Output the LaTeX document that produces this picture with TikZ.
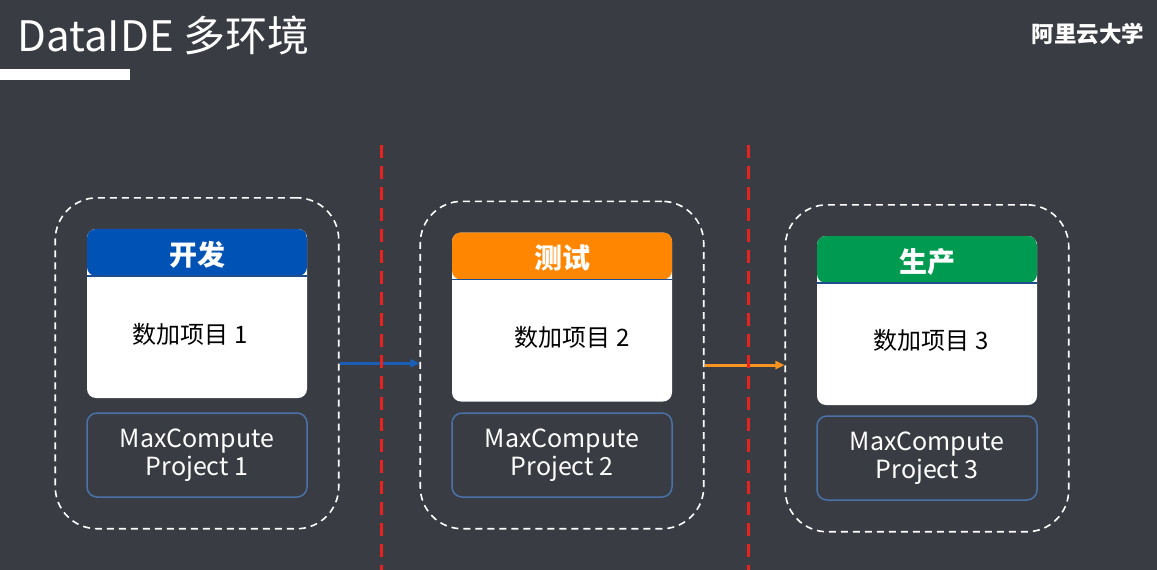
\documentclass[tikz,border=0pt]{standalone}
\usepackage{fontspec}
\setmainfont{Noto Sans CJK SC}
\usetikzlibrary{positioning,fit,arrows.meta}
\definecolor{bgdark}{HTML}{393C43}
\definecolor{devblue}{HTML}{0053B5}
\definecolor{testorange}{HTML}{FF8600}
\definecolor{prodgreen}{HTML}{009B50}
\definecolor{mcline}{HTML}{4A72A8}
\definecolor{hdline}{HTML}{1F4E8C}
\definecolor{arrowblue}{HTML}{1A5EB5}
\definecolor{arroworange}{HTML}{F7931E}
\definecolor{divred}{HTML}{E8231E}
\tikzset{
>={Triangle[length=9pt,width=8pt]}, % arrow heads of the hand-over arrows
node distance=365pt, % distance between the centres of two cards
on grid,
card/.style={rectangle, rounded corners=9pt, fill=white, minimum width=220pt, minimum height=169pt,
  path picture={
    \fill[#1] (path picture bounding box.north west) rectangle ([yshift=-47pt]path picture bounding box.north east);
    \draw[hdline, line width=1.5pt] ([yshift=-47pt]path picture bounding box.north west) -- ([yshift=-47pt]path picture bounding box.north east);
  }},
headtext/.style={font=\fontsize{28}{32}\selectfont\bfseries, text=white},
bodytext/.style={font=\fontsize{24}{28}\selectfont, text=black},
mcbox/.style={rectangle, rounded corners=10pt, draw=mcline, line width=1.5pt, minimum width=220pt, minimum height=84pt,
  align=center, text=white, font=\fontsize{25}{27.5}\selectfont},
group/.style={rectangle, rounded corners=42pt, draw=white, line width=1.6pt, dash pattern=on 7pt off 5pt, inner sep=31pt},
flow/.style={->, line width=3pt},
divider/.style={divred, line width=3pt, dash pattern=on 13pt off 8pt}
}
\begin{document}
\begin{tikzpicture}[x=1pt,y=-1pt]
\useasboundingbox[fill=bgdark] (0,0) rectangle (1157,570);
% heading
\node[anchor=west, text=white, font=\fontsize{42}{48}\selectfont] (title) at (14,35) {DataIDE 多环境};
\fill[white] (0,69) rectangle (130,80);
\node[anchor=east, text=white, font=\fontsize{22.5}{26}\selectfont\bfseries] (brand) at (1148,34) {阿里云大学};

% the three environments
\node[card=devblue] (c1) at (197,313.5) {};
\node[card=testorange] (c2) [right=of c1, yshift=-3.5pt] {};
\node[card=prodgreen] (c3) [right=of c2, yshift=-3.5pt] {};

\node[headtext] (h1) at ([yshift=-26pt]c1.north) {开发};
\node[headtext] (h2) at ([yshift=-26pt]c2.north) {测试};
\node[headtext] (h3) at ([yshift=-26pt]c3.north) {生产};

\node[bodytext] (t1) at ([xshift=-7pt, yshift=-106pt]c1.north) {数加项目 1};
\node[bodytext] (t2) at ([xshift=10pt, yshift=-105pt]c2.north) {数加项目 2};
\node[bodytext] (t3) at ([xshift=4pt, yshift=-105pt]c3.north) {数加项目 3};

\node[mcbox] (m1) [below=141.5pt of c1] {MaxCompute\\Project 1};
\node[mcbox] (m2) [below=138pt of c2] {MaxCompute\\Project 2};
\node[mcbox] (m3) [below=137.5pt of c3] {MaxCompute\\Project 3};

\node[group, fit=(c1)(m1)] (g1) {};
\node[group, fit=(c2)(m2)] (g2) {};
\node[group, fit=(c3)(m3)] (g3) {};

% hand-over between environments
\draw[flow, arrowblue] (g1.east) -- (g2.west |- g1.east);
\draw[flow, arroworange] (g2.east) -- (g3.west |- g2.east);

% borders between environments
\coordinate (d1) at (381,145);
\coordinate (d2) at (748,145);
\draw[divider] (d1) -- (d1 |- 0,570);
\draw[divider] (d2) -- (d2 |- 0,570);
\end{tikzpicture}
\end{document}
